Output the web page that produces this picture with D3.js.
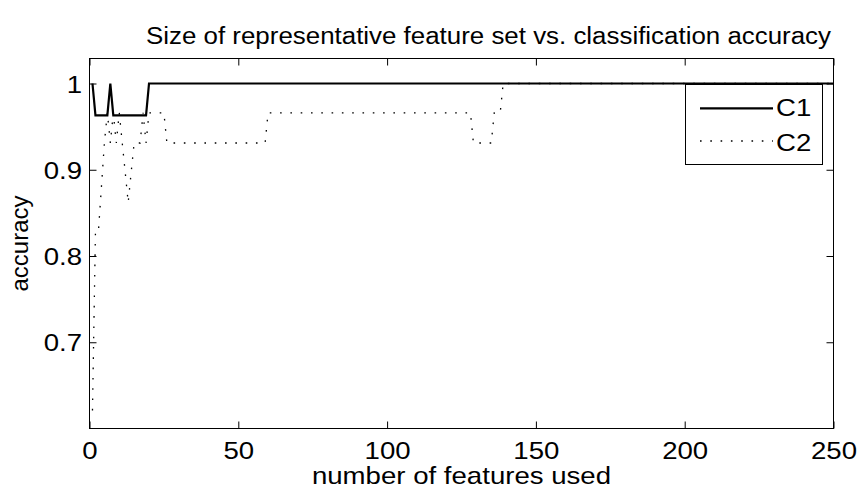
<!DOCTYPE html>
<html>
<head>
<meta charset="utf-8">
<script src="https://cdn.jsdelivr.net/npm/d3@7"></script>
<style>
  body { margin: 0; background: #fff; }
  text { font-family: "Liberation Sans", Arial, Helvetica, sans-serif; fill: #000; }
</style>
</head>
<body>
<svg id="chart" width="858" height="493"></svg>
<script>
// Vertices of each accuracy curve (feature count -> accuracy); the curve is flat between them.
const c1Features = [1, 2, 6, 7, 8, 19, 20, 250];
const c1Accuracy = [1, 0.963, 0.963, 1, 0.963, 0.963, 1, 1];

const c2Features = [1, 2, 3, 4, 5, 6, 7, 8, 9, 10, 11, 12, 13, 14, 15, 17, 18, 19, 20, 25, 26, 59, 60, 128, 129, 135, 136, 138, 139, 250];
const c2Accuracy = [0.621, 0.828, 0.828, 0.88, 0.931, 0.966, 0.931, 0.966, 0.931, 0.966, 0.931, 0.897, 0.862, 0.897, 0.931,
                    0.931, 0.966, 0.931, 0.966, 0.966, 0.931, 0.931, 0.966, 0.966, 0.931, 0.931, 0.966, 0.966, 1, 1];

const xTicks = [0, 50, 100, 150, 200, 250];
const yTicks = [0.7, 0.8, 0.9, 1];
const seriesNames = ["C1", "C2"];

const titleText = "Size of representative feature set vs. classification accuracy";
const xLabelText = "number of features used";
const yLabelText = "accuracy";

const plot = { left: 89.5, right: 833.5, top: 58.5, bottom: 428.5 };
const fontSize = 24;
const stretch = 1.15;   // horizontally widened glyphs

const svg = d3.select("#chart");

const x = d3.scaleLinear().domain([0, 250]).range([plot.left, plot.right]);
const y = d3.scaleLinear().domain([0.6, 1.029]).range([plot.bottom, plot.top]);

svg.append("rect")
  .attr("x", plot.left).attr("y", plot.top)
  .attr("width", plot.right - plot.left).attr("height", plot.bottom - plot.top)
  .attr("fill", "#fff").attr("stroke", "none");

// series
const toPoints = (xs, ys) => xs.map((f, i) => [f, ys[i]]);
const line = d3.line().x(d => x(d[0])).y(d => y(d[1]));

svg.append("path")
  .datum(toPoints(c2Features, c2Accuracy))
  .attr("d", line)
  .attr("fill", "none")
  .attr("stroke", "#000")
  .attr("stroke-width", 1.3)
  .attr("stroke-dasharray", "1.6 8.7");

svg.append("path")
  .datum(toPoints(c1Features, c1Accuracy))
  .attr("d", line)
  .attr("fill", "none")
  .attr("stroke", "#000")
  .attr("stroke-width", 2.2)
  .attr("stroke-linejoin", "miter");

// axes, ticks pointing inward on all four sides
const tickLen = 7;
function styleAxis(g) {
  g.select(".domain").remove();
  g.selectAll(".tick line").attr("stroke", "#000").attr("stroke-width", 1);
  g.selectAll("text").attr("font-size", fontSize).attr("font-family", null).attr("fill", "#000");
}

const gx = svg.append("g")
  .attr("transform", `translate(0,${plot.bottom})`)
  .call(d3.axisBottom(x).tickValues(xTicks).tickSizeInner(-tickLen).tickSizeOuter(0).tickPadding(13.5)
        .tickFormat(d3.format("d")))
  .call(styleAxis);
gx.selectAll(".tick text").attr("transform", `scale(${stretch},1)`);

svg.append("g")
  .attr("transform", `translate(0,${plot.top})`)
  .call(d3.axisTop(x).tickValues(xTicks).tickSizeInner(-tickLen).tickSizeOuter(0).tickFormat(""))
  .call(styleAxis);

const gy = svg.append("g")
  .attr("transform", `translate(${plot.left},0)`)
  .call(d3.axisLeft(y).tickValues(yTicks).tickSizeInner(-tickLen).tickSizeOuter(0).tickPadding(6.5)
        .tickFormat(d => d === 1 ? "1" : d3.format(".1f")(d)))
  .call(styleAxis);
gy.selectAll(".tick text").attr("transform", `scale(${stretch},1)`).attr("dy", "0.36em");

svg.append("g")
  .attr("transform", `translate(${plot.right},0)`)
  .call(d3.axisRight(y).tickValues(yTicks).tickSizeInner(-tickLen).tickSizeOuter(0).tickFormat(""))
  .call(styleAxis);

svg.append("rect")
  .attr("x", plot.left).attr("y", plot.top)
  .attr("width", plot.right - plot.left).attr("height", plot.bottom - plot.top)
  .attr("fill", "none").attr("stroke", "#000").attr("stroke-width", 1);

// titles
function stretchedText(tx, ty, str, anchor) {
  return svg.append("text")
    .attr("transform", `translate(${tx},${ty}) scale(${stretch},1)`)
    .attr("text-anchor", anchor)
    .attr("font-size", fontSize)
    .text(str);
}
svg.append("text")
  .attr("x", 146).attr("y", 44)
  .attr("font-size", 23.5)
  .attr("textLength", 685)
  .attr("lengthAdjust", "spacingAndGlyphs")
  .text(titleText);

stretchedText((plot.left + plot.right) / 2, 484, xLabelText, "middle");

svg.append("text")
  .attr("transform", `translate(28,${(plot.top + plot.bottom) / 2}) rotate(-90)`)
  .attr("text-anchor", "middle")
  .attr("font-size", fontSize)
  .text(yLabelText);

// legend
const lg = svg.append("g").attr("class", "legend");
lg.append("rect")
  .attr("x", 685.5).attr("y", 84.5).attr("width", 137).attr("height", 80)
  .attr("fill", "#fff").attr("stroke", "#000").attr("stroke-width", 1);
const legendRows = [
  { name: seriesNames[0], ly: 108.3, tb: 116, width: 2.2, dash: null },
  { name: seriesNames[1], ly: 141, tb: 150.5, width: 1.3, dash: "1.6 8.7" }
];
legendRows.forEach(r => {
  const ln = lg.append("line")
    .attr("x1", 700).attr("x2", 773).attr("y1", r.ly).attr("y2", r.ly)
    .attr("stroke", "#000").attr("stroke-width", r.width);
  if (r.dash) ln.attr("stroke-dasharray", r.dash);
  lg.append("text")
    .attr("transform", `translate(776,${r.tb}) scale(${stretch},1)`)
    .attr("font-size", fontSize)
    .text(r.name);
});
</script>
</body>
</html>
